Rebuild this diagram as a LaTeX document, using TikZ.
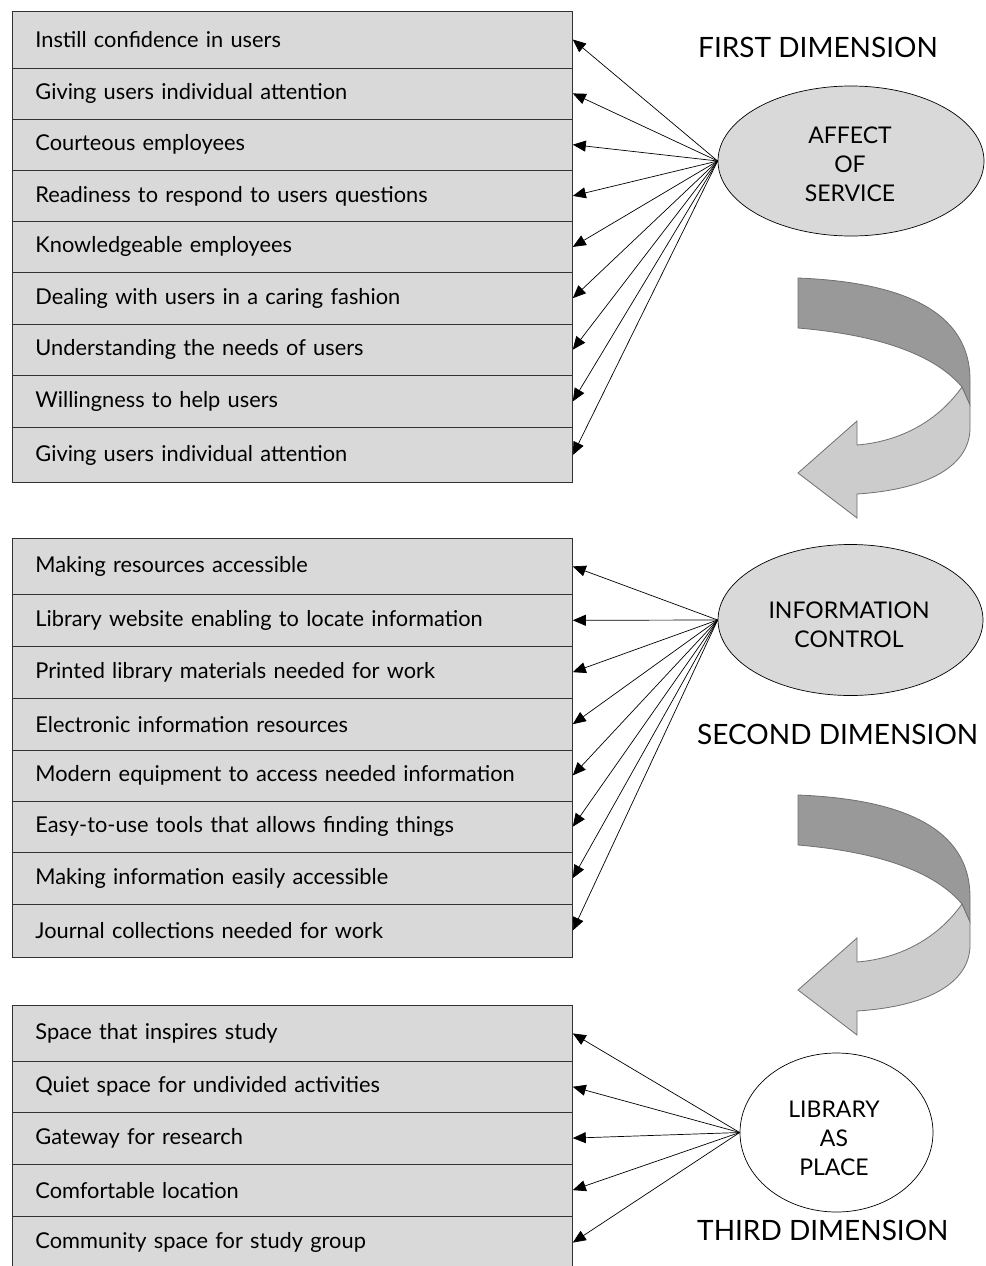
\documentclass[tikz,border=0pt]{standalone}
\usepackage{fontspec}
\setmainfont{Lato}
\usetikzlibrary{arrows.meta,shapes.geometric}
\definecolor{boxgray}{HTML}{D9D9D9}
\definecolor{darkband}{HTML}{999999}
\definecolor{lightband}{HTML}{CCCCCC}
\definecolor{bandline}{HTML}{707070}
\tikzset{
  rowbox/.style={draw=black!80, line width=0.8pt, fill=boxgray, minimum width=560pt,
    anchor=north west, inner xsep=23pt, inner ysep=0pt, text width=514pt, align=left,
    font=\fontsize{21.8}{24}\selectfont},
  dimell/.style={ellipse, draw=black, line width=0.7pt, fill=boxgray, inner sep=0pt},
  elltext/.style={inner sep=0pt, align=center, font=\fontsize{23}{29}\selectfont},
  heading/.style={anchor=west, inner sep=0pt, font=\fontsize{28}{32}\selectfont},
  arr/.style={line width=0.7pt, -{Triangle[length=13pt,width=11pt]}},
  band/.style={draw=bandline, line width=0.8pt}
}
\newcommand{\turnarrow}{%
  \path[band, fill=darkband] (798,278) .. controls (900,282) and (970,310) .. (970,380)
    -- (970,405) -- (962,387) .. controls (935,355) and (880,335) .. (798,328) -- cycle;
  \path[band, fill=lightband] (962,387) -- (970,405) -- (970,430)
    .. controls (968,470) and (920,490) .. (857,494) -- (857,518) -- (798,473)
    -- (857,421) -- (857,445) .. controls (895,442) and (935,425) .. (962,387) -- cycle;
}
\begin{document}
\begin{tikzpicture}[x=1pt,y=-1pt]
\useasboundingbox (0,0) rectangle (985,1266);
\clip (0,0) rectangle (985,1266);
% first group
\node[rowbox, minimum height=56.8pt] (a1) at (12,10.7) {\raisebox{-2pt}{Instill confidence in users}};
\node[rowbox, minimum height=51pt] (a2) at (12,67.5) {Giving users individual attention};
\node[rowbox, minimum height=51.5pt] (a3) at (12,118.5) {Courteous employees};
\node[rowbox, minimum height=51pt] (a4) at (12,170) {Readiness to respond to users questions};
\node[rowbox, minimum height=51pt] (a5) at (12,221) {Knowledgeable employees};
\node[rowbox, minimum height=51.5pt] (a6) at (12,272) {Dealing with users in a caring fashion};
\node[rowbox, minimum height=51.5pt] (a7) at (12,323.5) {Understanding the needs of users};
\node[rowbox, minimum height=52pt] (a8) at (12,375) {Willingness to help users};
\node[rowbox, minimum height=55.3pt] (a9) at (12,427) {Giving users individual attention};
% second group
\node[rowbox, minimum height=56.6pt] (b1) at (12,537.7) {Making resources accessible};
\node[rowbox, minimum height=51.2pt] (b2) at (12,594.3) {Library website enabling to locate information};
\node[rowbox, minimum height=52.5pt] (b3) at (12,645.5) {Printed library materials needed for work};
\node[rowbox, minimum height=51.5pt] (b4) at (12,698) {Electronic information resources};
\node[rowbox, minimum height=51pt] (b5) at (12,749.5) {Modern equipment to access needed information};
\node[rowbox, minimum height=51.5pt] (b6) at (12,800.5) {Easy-to-use tools that allows finding things};
\node[rowbox, minimum height=51.5pt] (b7) at (12,852) {Making information easily accessible};
\node[rowbox, minimum height=53.2pt] (b8) at (12,903.5) {Journal collections needed for work};
% third group
\node[rowbox, minimum height=56pt] (c1) at (12,1005) {Space that inspires study};
\node[rowbox, minimum height=50.7pt] (c2) at (12,1061) {Quiet space for undivided activities};
\node[rowbox, minimum height=52pt] (c3) at (12,1111.7) {Gateway for research};
\node[rowbox, minimum height=52pt] (c4) at (12,1163.7) {Comfortable location};
\node[rowbox, minimum height=53pt] (c5) at (12,1215.7) {Community space for study group};
% ellipses
\node[dimell, minimum width=266pt, minimum height=150pt] (e1) at (851,161) {};
\node[elltext] (t1) at (850,164.5) {AFFECT\\OF\\SERVICE};
\node[dimell, minimum width=265pt, minimum height=151pt] (e2) at (850.5,620) {};
\node[elltext] (t2) at (849,625) {INFORMATION\\CONTROL};
\node[dimell, fill=white, minimum width=193pt, minimum height=159pt] (e3) at (836.5,1132.5) {};
\node[elltext] (t3) at (834,1138.5) {LIBRARY\\AS\\PLACE};
% headings
\node[heading] (h1) at (698,47) {FIRST DIMENSION};
\node[heading] (h2) at (697,734) {SECOND DIMENSION};
\node[heading] (h3) at (697,1230) {THIRD DIMENSION};
% connectors
\foreach \r in {a1,a2,a3,a4,a5,a6,a7,a8,a9} \draw[arr] (e1.west) -- (\r.east);
\foreach \r in {b1,b2,b3,b4,b5,b6,b7,b8} \draw[arr] (e2.west) -- (\r.east);
\foreach \r in {c1,c2,c3,c4,c5} \draw[arr] (e3.west) -- (\r.east);
% curved arrows
\turnarrow
\begin{scope}[yshift=-517pt]
\turnarrow
\end{scope}
\end{tikzpicture}
\end{document}
